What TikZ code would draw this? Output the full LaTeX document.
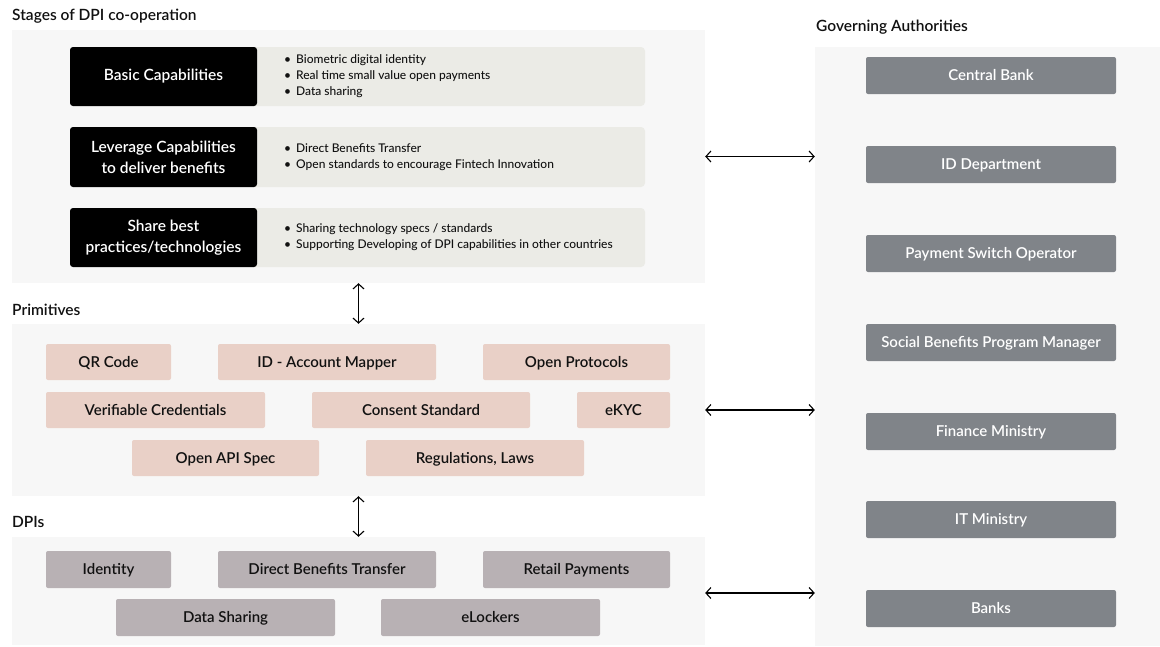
\documentclass[tikz,border=0pt]{standalone}
\usepackage{fontspec}
\setmainfont{Lato Semibold}
\newfontfamily\medfont{Lato Medium}
\usetikzlibrary{arrows.meta}
\definecolor{panelbg}{HTML}{F7F7F7}
\definecolor{lightbox}{HTML}{EBEBE6}
\definecolor{pinkbox}{HTML}{E9D0C7}
\definecolor{dpibox}{HTML}{B8B1B4}
\definecolor{govbox}{HTML}{808489}
\definecolor{txt}{HTML}{111111}
\begin{document}
\begin{tikzpicture}[x=1pt,y=-1pt,
  panel/.style={fill=panelbg, draw=none, inner sep=0pt},
  title/.style={anchor=west, inner sep=0pt, text=txt, font=\fontsize{15.5}{17}\selectfont},
  stagebox/.style={fill=black, rounded corners=3pt, text=white, align=center, inner sep=0pt,
    font=\fontsize{15.5}{21}\selectfont},
  bulletbox/.style={fill=lightbox, rounded corners=4pt, inner sep=0pt},
  bullets/.style={anchor=west, align=left, inner sep=0pt, text=txt, font=\medfont\fontsize{12}{16}\selectfont},
  capcentre/.style={text height=10.8pt, text depth=0pt},
  prim/.style={capcentre, fill=pinkbox, rounded corners=2pt, inner sep=0pt, minimum height=36pt, text=txt,
    font=\fontsize{15}{17}\selectfont},
  dpi/.style={capcentre, fill=dpibox, rounded corners=2pt, inner sep=0pt, minimum height=37pt, text=txt,
    font=\fontsize{15}{17}\selectfont},
  gov/.style={capcentre, fill=govbox, rounded corners=2pt, inner sep=0pt, minimum height=37pt, minimum width=250pt,
    text=white, font=\fontsize{15}{17}\selectfont},
  arr/.style={{Straight Barb[length=5pt,width=11pt]}-{Straight Barb[length=5pt,width=11pt]}, line width=1.1pt, black}
]
\useasboundingbox (0,0) rectangle (1160,646);
\fill[white] (0,0) rectangle (1160,646);

% panels
\node[panel, minimum width=693pt, minimum height=253pt] (stages) at (358.5,156.5) {};
\node[panel, minimum width=693pt, minimum height=172pt] (prims) at (358.5,410) {};
\node[panel, minimum width=693pt, minimum height=108pt] (dpis) at (358.5,591) {};
\node[panel, minimum width=345pt, minimum height=599pt] (gov) at (987.5,346.5) {};

% titles
\node[title] (t1) at (12,16) {Stages of DPI co-operation};
\node[title] (t2) at (12,310) {Primitives};
\node[title] (t3) at (12,522) {DPIs};
\node[title] (t4) at (816,27) {Governing Authorities};

% stages rows
\node[bulletbox, minimum width=395pt, minimum height=59pt] (b1) at (447.5,76.5) {};
\node[bulletbox, minimum width=395pt, minimum height=60pt] (b2) at (447.5,157) {};
\node[bulletbox, minimum width=395pt, minimum height=59pt] (b3) at (447.5,237.5) {};
\node[stagebox, minimum width=187pt, minimum height=59pt] (s1) at (163.5,76.5) {Basic Capabilities};
\node[stagebox, minimum width=187pt, minimum height=60pt] (s2) at (163.5,157) {Leverage Capabilities\\to deliver benefits};
\node[stagebox, minimum width=187pt, minimum height=59pt] (s3) at (163.5,237.5) {Share best\\practices/technologies};
\node[bullets] (l1) at (284,76.5) {\textbullet\hspace{5pt}Biometric digital identity\\\textbullet\hspace{5pt}Real time small value open payments\\\textbullet\hspace{5pt}Data sharing};
\node[bullets] (l2) at (284,157) {\textbullet\hspace{5pt}Direct Benefits Transfer\\\textbullet\hspace{5pt}Open standards to encourage Fintech Innovation};
\node[bullets] (l3) at (284,237.5) {\textbullet\hspace{5pt}Sharing technology specs / standards\\\textbullet\hspace{5pt}Supporting Developing of DPI capabilities in other countries};

% primitives
\node[prim, minimum width=125pt] (qr) at (108.5,362) {QR Code};
\node[prim, minimum width=218pt] (idam) at (327,362) {ID - Account Mapper};
\node[prim, minimum width=187pt] (oprot) at (576.5,362) {Open Protocols};
\node[prim, minimum width=219pt] (vc) at (155.5,410) {Verifiable Credentials};
\node[prim, minimum width=218pt] (cons) at (421,410) {Consent Standard};
\node[prim, minimum width=93pt] (ekyc) at (623.5,410) {eKYC};
\node[prim, minimum width=187pt] (oapi) at (225.5,458) {Open API Spec};
\node[prim, minimum width=218pt] (regs) at (475,458) {Regulations, Laws};

% DPIs
\node[dpi, minimum width=125pt] (ident) at (108.5,569.5) {Identity};
\node[dpi, minimum width=218pt] (dbt) at (327,569.5) {Direct Benefits Transfer};
\node[dpi, minimum width=187pt] (retail) at (576.5,569.5) {Retail Payments};
\node[dpi, minimum width=219pt] (dshare) at (225.5,617.5) {Data Sharing};
\node[dpi, minimum width=219pt] (elock) at (490.5,617.5) {eLockers};

% governing authorities
\node[gov] (cb) at (991,75.5) {Central Bank};
\node[gov] (idd) at (991,164.5) {ID Department};
\node[gov] (pso) at (991,253.5) {Payment Switch Operator};
\node[gov] (sbpm) at (991,342.5) {Social Benefits Program Manager};
\node[gov] (fin) at (991,431.5) {Finance Ministry};
\node[gov] (itm) at (991,519.5) {IT Ministry};
\node[gov] (banks) at (991,608.5) {Banks};

% connectors
\coordinate (dpiE) at ([yshift=-2pt]dpis.east);
\draw[arr] (stages.south) -- (prims.north);
\draw[arr] (prims.south) -- (dpis.north);
\draw[arr] (stages.east) -- (gov.west |- stages.east);
\draw[arr] (prims.east) -- (gov.west |- prims.east);
\draw[arr] (dpiE) -- (gov.west |- dpiE);
\end{tikzpicture}
\end{document}
